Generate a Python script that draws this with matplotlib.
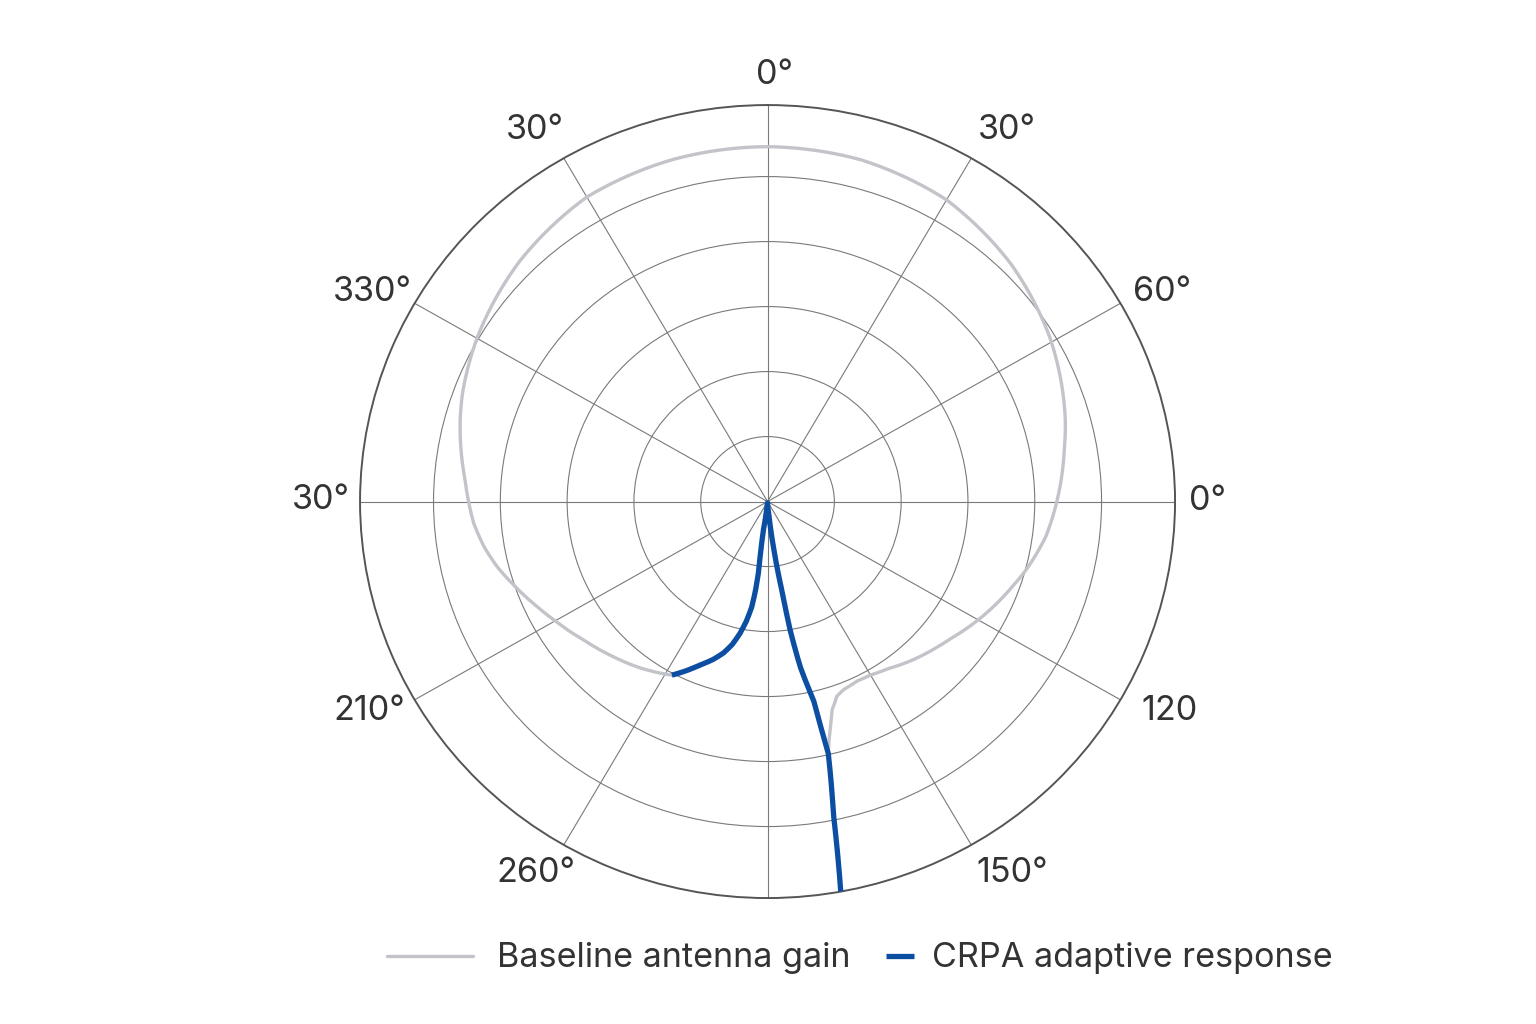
import numpy as np
import matplotlib.pyplot as plt
from matplotlib.legend_handler import HandlerLine2D

plt.rcParams['font.family'] = ['Inter', 'DejaVu Sans']

# Baseline antenna gain (azimuth deg, radius in ring units)
GAIN_DEG = [166.8, 165.9, 164.8, 163.25, 160.9, 158.6, 154.1, 150.2, 145.0, 141.8, 138.0,
            132.3, 127.5, 121.7, 110.5, 105.2, 97.4, 90.0, 80.0, 74.3, 59.3, 45.0, 30.0,
            15.0, 0.0, -15.0, -30.0, -45.0, -59.5, -70.0, -74.7, -85.8, -89.7, -94.4,
            -99.3, -103.9, -109.3, -115.4, -120.4, -127.7, -136.0, -143.4, -151.8]
GAIN_R = [3.98, 3.78, 3.59, 3.35, 3.17, 3.11, 3.07, 3.08, 3.14, 3.20, 3.27,
          3.37, 3.46, 3.60, 3.87, 4.01, 4.20, 4.33, 4.51, 4.63, 4.92, 5.16, 5.36,
          5.44, 5.46, 5.45, 5.41, 5.24, 5.03, 4.86, 4.77, 4.54, 4.48, 4.41,
          4.30, 4.17, 3.99, 3.80, 3.66, 3.48, 3.32, 3.19, 3.03]

# CRPA adaptive response
CRPA_DEG = [208.2, 205.0, 202.1, 198.5, 195.8, 193.5, 191.5, 189.8, 188.3, 187.5, 187.1,
            187.6, 188.1, 186.0, 180.0, 174.6, 172.8, 171.1, 170.3, 169.1, 167.3, 166.8,
            167.6, 168.4, 169.65]
CRPA_R = [3.03, 2.87, 2.72, 2.56, 2.42, 2.26, 2.07, 1.87, 1.64, 1.38, 1.11,
          0.78, 0.44, 0.08, 0.02, 0.16, 0.70, 1.38, 2.00, 2.59, 3.13, 3.98,
          4.44, 4.90, 6.10]

THETA_TICKS = list(range(0, 360, 30))
THETA_LABELS = ['0°', '30°', '60°', '0°', '120', '150°', '', '260°', '210°', '30°', '330°', '30°']
R_TICKS = [1, 2, 3, 4, 5]
R_MAX = 6.1
SERIES_LABELS = ['Baseline antenna gain', 'CRPA adaptive response']

GRAY = '#c3c3ca'
BLUE = '#0b4ea2'
TEXT = '#333333'

# where each angle label sits (theta deg, r) -- layout only
LABEL_SPOTS = [(0.85, 6.56), (32.1, 6.75), (61.4, 6.73), (89.9, 6.59), (118.1, 6.83),
               (147.4, 6.79), (180.0, 6.7), (211.2, 6.68), (241.6, 6.77), (270.2, 6.68),
               (298.6, 6.73), (328.6, 6.69)]


class FracLineHandler(HandlerLine2D):
    """Legend line drawn between two fractions of the handle box width."""

    def __init__(self, start, end, **kw):
        super().__init__(**kw)
        self.start, self.end = start, end

    def create_artists(self, legend, orig_handle, xdescent, ydescent, width, height, fontsize, trans):
        arts = super().create_artists(legend, orig_handle, xdescent, ydescent, width, height, fontsize, trans)
        y = np.asarray(arts[0].get_ydata())[0]
        arts[0].set_data([-xdescent + self.start * width, -xdescent + self.end * width], [y, y])
        return arts


fig = plt.figure(figsize=(15.36, 10.24), dpi=100)
ax = fig.add_axes([0.2344, 0.1230, 0.5306, 0.7744], projection='polar')
ax.set_aspect('auto')
ax.set_theta_zero_location('N')
ax.set_theta_direction(-1)

l_gain, = ax.plot(np.deg2rad(GAIN_DEG), GAIN_R, color=GRAY, lw=2.4, zorder=3,
                  solid_capstyle='round', solid_joinstyle='round')
l_crpa, = ax.plot(np.deg2rad(CRPA_DEG), CRPA_R, color=BLUE, lw=3.8, zorder=4,
                  solid_capstyle='butt', solid_joinstyle='round')
# draw segments as curves in polar space rather than straight chords
for ln in (l_gain, l_crpa):
    ln.get_path()._interpolation_steps = 40

ax.set_ylim(0, R_MAX)
ax.set_yticks(R_TICKS)
ax.set_yticklabels([])
ax.set_thetagrids(THETA_TICKS, [''] * len(THETA_TICKS))
ax.tick_params(axis='x', length=0)
for lab, (a, r) in zip(THETA_LABELS, LABEL_SPOTS):
    ax.text(np.deg2rad(a), r, lab, ha='center', va='center', fontsize=24.6,
            color=TEXT, clip_on=False)
ax.grid(True, color='#7a7a7a', lw=0.8)
ax.spines['polar'].set_color('#555555')
ax.spines['polar'].set_linewidth(1.4)

fig.legend([l_gain, l_crpa], SERIES_LABELS, loc='center', bbox_to_anchor=(0.5805, 0.064),
           ncol=2, frameon=False, fontsize=24.6, labelcolor=TEXT,
           handlelength=0.82, handletextpad=0.53, columnspacing=1.02,
           handler_map={l_gain: FracLineHandler(-2.29, 0.79),
                        l_crpa: FracLineHandler(0.0, 1.0)})

fig.savefig('out.png', dpi=100, facecolor='white')
